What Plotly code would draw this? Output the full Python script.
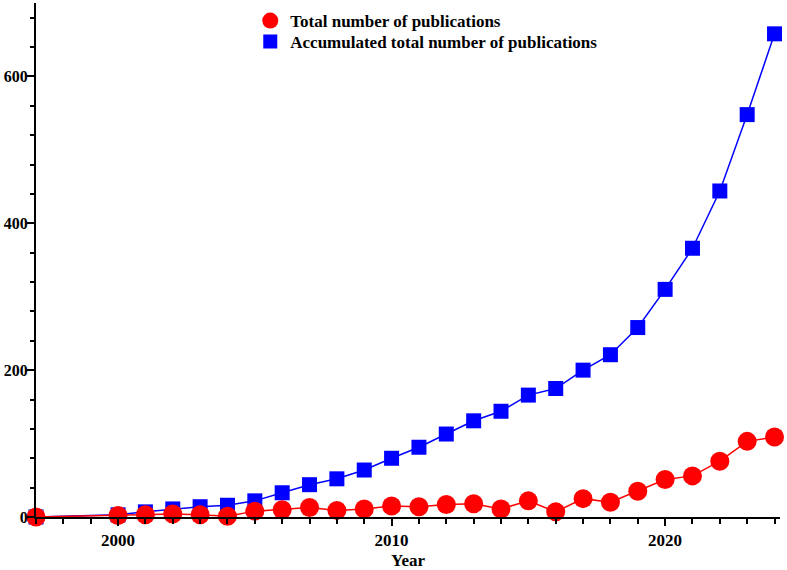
import plotly.graph_objects as go

years = [1997, 2000, 2001, 2002, 2003, 2004, 2005, 2006, 2007, 2008, 2009, 2010, 2011,
         2012, 2013, 2014, 2015, 2016, 2017, 2018, 2019, 2020, 2021, 2022, 2023, 2024]
total_pubs = [0, 2, 3, 4, 3, 1, 8, 10, 13, 9, 11, 15, 14,
              17, 18, 11, 22, 7, 25, 20, 35, 51, 56, 76, 103, 109]
accum_pubs = [0, 3, 7, 11, 14, 16, 22, 33, 44, 52, 64, 80, 95,
              113, 131, 144, 166, 175, 200, 221, 258, 310, 366, 444, 548, 658]

name_total = "Total number of publications"
name_accum = "Accumulated total number of publications"

FONT = "Liberation Serif"

fig = go.Figure()
fig.add_trace(go.Scatter(x=years, y=accum_pubs, mode="lines+markers", showlegend=False,
                         line=dict(color="#0000FF", width=1.5),
                         marker=dict(symbol="square", size=15, color="#0000FF"),
                         cliponaxis=False))
fig.add_trace(go.Scatter(x=years, y=total_pubs, mode="lines+markers", showlegend=False,
                         line=dict(color="#FF0000", width=1.5),
                         marker=dict(symbol="circle", size=19, color="#FF0000"),
                         cliponaxis=False))
# legend-only entries (marker without line)
fig.add_trace(go.Scatter(x=[None], y=[None], mode="markers", name=name_total, legend="legend",
                         marker=dict(symbol="circle", size=16, color="#FF0000")))
fig.add_trace(go.Scatter(x=[None], y=[None], mode="markers", name=name_accum, legend="legend2",
                         marker=dict(symbol="square", size=14, color="#0000FF")))

legend_font = dict(family=FONT, size=17, color="black", weight="bold")
fig.update_layout(
    width=787, height=570,
    margin=dict(l=36, r=7, t=3, b=53),
    plot_bgcolor="white", paper_bgcolor="white",
    font=dict(family=FONT, size=17, color="black"),
    legend=dict(x=0.288, y=1.0, xanchor="left", yanchor="top",
                font=legend_font, bgcolor="rgba(0,0,0,0)"),
    legend2=dict(x=0.288, y=0.959, xanchor="left", yanchor="top",
                 font=legend_font, bgcolor="rgba(0,0,0,0)"),
)
fig.update_xaxes(
    range=[1997, 2024.2], showgrid=False, zeroline=False, automargin=False,
    showline=True, linecolor="black", linewidth=2,
    ticks="outside", ticklen=7, tickwidth=2, tickcolor="black",
    tick0=2000, dtick=10,
    tickfont=dict(family=FONT, size=17, weight="bold"),
    minor=dict(dtick=1, tick0=2000, ticks="outside", ticklen=5, tickwidth=2, tickcolor="black"),
    title=dict(text="Year", font=dict(family=FONT, size=17, weight="bold"), standoff=6),
)
fig.update_yaxes(
    range=[0, 700], showgrid=False, zeroline=False, automargin=False,
    showline=True, linecolor="black", linewidth=2,
    ticks="outside", ticklen=7, tickwidth=2, tickcolor="black",
    tick0=0, dtick=200, ticklabelstandoff=-4,
    tickfont=dict(family=FONT, size=16, weight="bold"),
    minor=dict(dtick=40, tick0=0, ticks="outside", ticklen=4, tickwidth=2, tickcolor="black"),
)

fig.write_html("out.html")
